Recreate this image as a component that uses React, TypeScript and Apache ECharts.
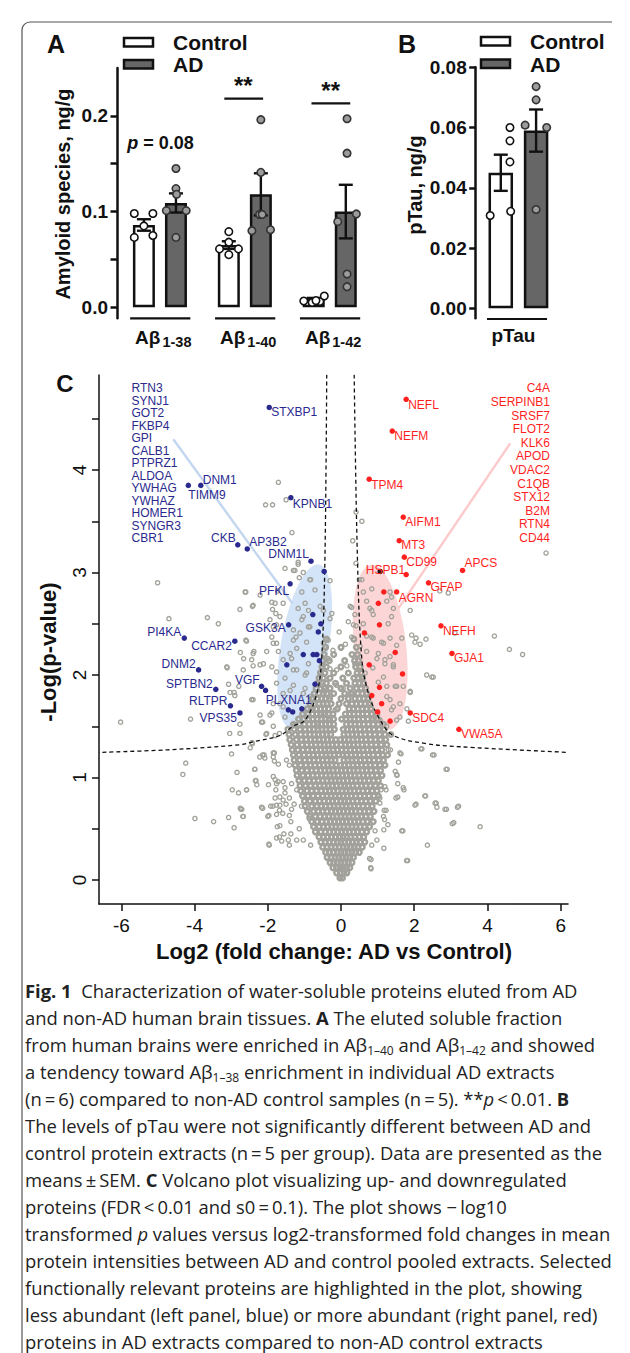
import React, { useEffect, useRef } from 'react';
import * as echarts from 'echarts';

const SANS = '"Liberation Sans", Arial, Helvetica, sans-serif';
const CAP = '"Open Sans", "Noto Sans", sans-serif';
const INK = '#111111';
const BLUE = '#2a2a8e';
const RED = '#ff1f1f';
const GREY = '#a2a29b';

// ---------------- Panel A data ----------------
const amyloidSpecies = ['1-38', '1-40', '1-42'];
const amyloidCtrlMean = [0.086, 0.065, 0.0085];
const amyloidCtrlSem = [0.006, 0.004, 0.0013];
const amyloidAdMean = [0.109, 0.118, 0.1];
const amyloidAdSem = [0.01, 0.022, 0.028];
const amyloidCtrlPoints = [
  [0.098, 0.098, 0.085, 0.073, 0.075],
  [0.079, 0.068, 0.061, 0.061, 0.055],
  [0.0066, 0.005, 0.006, 0.0118, 0.007],
];
const amyloidAdPoints = [
  [0.145, 0.124, 0.118, 0.101, 0.101, 0.073],
  [0.196, 0.141, 0.097, 0.097, 0.08, 0.081],
  [0.197, 0.161, 0.0975, 0.0895, 0.0348, 0.0215],
];
const amyloidLabelTicks = [0, 0.1, 0.2];
const amyloidTicks = [0, 0.05, 0.1, 0.15, 0.2];
const amyloidSignif = ['p = 0.08', '**', '**'];

// ---------------- Panel B data ----------------
const tauCtrlMean = 0.045;
const tauCtrlSem = 0.006;
const tauAdMean = 0.059;
const tauAdSem = 0.007;
const tauCtrlPoints = [0.06, 0.0556, 0.0486, 0.0308, 0.0322];
const tauAdPoints = [0.0736, 0.0692, 0.0608, 0.06, 0.0328];
const tauTicks = [0, 0.02, 0.04, 0.06, 0.08];

// ---------------- Panel C data ----------------
const volcanoXTicks = [-6, -4, -2, 0, 2, 4, 6];
const volcanoYTicks = [0, 0.5, 1, 1.5, 2, 2.5, 3, 3.5, 4, 4.5];
const volcanoYLabels = [0, 1, 2, 3, 4];

const downLabeled: [string, number, number][] = [
  ['STXBP1', -1.96, 4.61], ['DNM1', -3.83, 3.85], ['TIMM9', -4.17, 3.85], ['KPNB1', -1.37, 3.73],
  ['CKB', -2.82, 3.27], ['AP3B2', -2.56, 3.23], ['DNM1L', -0.82, 3.11], ['PFKL', -1.39, 2.89],
  ['GSK3A', -1.43, 2.49], ['PI4KA', -4.28, 2.36], ['CCAR2', -2.9, 2.33], ['DNM2', -3.89, 2.05],
  ['SPTBN2', -3.42, 1.86], ['VGF', -2.17, 1.89], ['RLTPR', -3.02, 1.7], ['VPS35', -2.76, 1.63],
  ['PLXNA1', -1.32, 1.64],
];
const downOther = [
  [-0.46, 3.01], [-0.77, 2.59], [-0.55, 2.5], [-0.62, 2.42], [-1.03, 2.2], [-0.76, 2.2], [-0.66, 2.2],
  [-0.59, 2.14], [-1.48, 2.1], [-0.71, 1.91], [-1.44, 1.66], [-1.07, 1.67], [-2.06, 1.85],
];
const upLabeled: [string, number, number][] = [
  ['NEFL', 1.78, 4.69], ['NEFM', 1.4, 4.38], ['TPM4', 0.77, 3.91], ['AIFM1', 1.7, 3.54],
  ['MT3', 1.59, 3.31], ['CD99', 1.73, 3.15], ['HSPB1', 1.78, 2.98], ['APCS', 3.32, 3.02],
  ['GFAP', 2.39, 2.9], ['AGRN', 1.52, 2.81], ['NEFH', 2.73, 2.48], ['GJA1', 3.03, 2.21],
  ['SDC4', 1.89, 1.63], ['VWA5A', 3.22, 1.47],
];
const upOther = [
  [1.17, 2.81], [1.02, 2.7], [1.05, 2.49], [0.64, 2.41], [1.48, 2.22], [0.77, 2.1], [1.68, 2.01],
  [1.05, 1.88], [0.84, 1.8], [1.11, 1.72], [1.0, 1.64], [1.34, 1.55],
];
const otherHighlighted = [[1.07, 3.01]];
const downList = ['RTN3', 'SYNJ1', 'GOT2', 'FKBP4', 'GPI', 'CALB1', 'PTPRZ1', 'ALDOA', 'YWHAG', 'YWHAZ', 'HOMER1', 'SYNGR3', 'CBR1'];
const upList = ['C4A', 'SERPINB1', 'SRSF7', 'FLOT2', 'KLK6', 'APOD', 'VDAC2', 'C1QB', 'STX12', 'B2M', 'RTN4', 'CD44'];

const thresholdLeft = [
  [-0.39, 4.93], [-0.44, 3.12], [-0.53, 2.15], [-0.66, 1.82], [-0.98, 1.56], [-1.31, 1.5],
  [-1.67, 1.41], [-2.39, 1.35], [-2.76, 1.32], [-4.74, 1.27], [-6.61, 1.245],
];
const thresholdRight = [
  [0.36, 4.93], [0.45, 3.12], [0.57, 2.15], [0.75, 1.82], [1.07, 1.56], [1.43, 1.41],
  [2.34, 1.33], [3.25, 1.3], [6.2, 1.245],
];
const downConnector = [[-4.58, 4.3], [-1.33, 2.7]];
const upConnector = [[4.62, 4.26], [1.57, 2.65]];
const regionCenters = [[-0.99, 2.28], [1.07, 2.27]];

const greyScattered = [
  [-1.71, 3.88], [-2.06, 3.66], [-1.87, 3.66], [-1.5, 3.71], [-1.34, 3.39],
  [-5.01, 2.9], [-4.7, 2.55], [-3.65, 2.56], [-3.35, 2.5], [-2.76, 2.64], [-2.42, 2.67], [-2.6, 2.81],
  [-2.58, 2.33], [-2.75, 2.22], [-2.66, 2.16], [-2.4, 2.21], [-2.4, 2.09], [-3.11, 2.07], [-3.07, 1.91],
  [-2.79, 1.89], [-3.03, 1.83], [-2.9, 1.8], [-2.44, 1.76], [-4.11, 1.57], [-2.76, 1.52], [-3.04, 1.43],
  [-2.76, 1.43], [-2.43, 1.34], [-2.48, 1.29], [-2.99, 1.23], [-4.24, 1.14], [-4.32, 1.03], [-2.84, 1.05],
  [-2.36, 1.08], [-2.34, 0.97], [-2.97, 0.88], [-2.8, 0.85], [-2.58, 0.88], [-2.75, 0.7], [-2.68, 0.62],
  [-3.07, 0.61], [-3.99, 0.6], [-3.48, 0.57], [-2.92, 0.51], [-6.02, 1.54],
  [-1.17, 3.1], [-1.26, 3.02], [-1.03, 3.0], [-1.53, 3.04], [-0.3, 2.92], [-1.14, 2.95], [-0.85, 2.93],
  [-1.73, 2.82], [-1.89, 2.71], [-1.87, 2.64], [-1.78, 2.6], [-1.67, 2.57], [-1.58, 2.7], [-1.17, 2.65],
  [-1.03, 2.57], [-0.48, 2.63], [-0.3, 2.55], [-1.76, 2.49], [-1.3, 2.44], [-0.89, 2.47], [-1.23, 2.37],
  [-2.38, 2.23], [-2.03, 2.23], [-1.85, 2.31], [-1.71, 2.23], [-1.58, 2.15], [-1.39, 2.21], [-0.35, 2.16],
  [-0.44, 2.28], [-0.35, 2.34], [-2.12, 2.11], [-2.67, 2.05], [-3.12, 2.08], [-1.76, 2.03], [-1.3, 2.05],
  [-0.94, 2.02], [-0.3, 2.06], [-2.92, 1.83], [-1.76, 1.92], [-1.39, 1.85], [-1.03, 1.82], [-0.48, 1.85],
  [-0.3, 1.79], [-1.85, 1.72], [-1.58, 1.69], [-2.21, 1.61], [-1.89, 1.63], [-0.94, 1.59], [-0.48, 1.63],
  [-0.16, 1.66], [-2.17, 1.54],
  [-1.3, 3.02], [-1.17, 3.08], [-0.83, 2.93], [-1.07, 2.81], [-0.71, 2.83], [-0.98, 2.7], [-0.89, 2.63],
  [-0.57, 2.67], [-1.07, 2.54], [-0.85, 2.47], [-1.12, 2.41], [-1.3, 2.34], [-0.94, 2.32], [-0.48, 2.31],
  [-1.21, 2.26], [-1.35, 2.16], [-0.89, 2.11], [-0.48, 2.1], [-1.21, 2.05], [-0.98, 2.0], [-0.57, 2.03],
  [-1.53, 1.97], [-1.3, 1.9], [-0.98, 1.87], [-0.53, 1.9], [-1.58, 1.82], [-0.85, 1.79], [-0.44, 1.84],
  [-1.67, 1.72], [-0.8, 1.69], [-0.48, 1.72], [-1.53, 1.59], [-0.57, 1.63], [-1.26, 1.51],
  [-0.66, 1.5], [-0.35, 1.56], [-1.94, 2.54], [-1.85, 2.47], [-1.89, 2.37], [-1.76, 2.31], [-1.8, 2.7],
  [-2.21, 2.78], [-2.62, 2.81], [-2.4, 2.68], [-2.6, 2.34], [-2.44, 2.15], [-2.21, 2.1], [-1.89, 2.08],
  [-2.4, 1.76], [-1.94, 1.61], [-1.85, 1.5], [-2.03, 1.43],
  [0.16, 2.09], [-0.12, 2.05], [-0.12, 1.9], [0.06, 1.87], [0.25, 1.82], [0.25, 2.67], [0.38, 2.59],
  [0.34, 2.49], [0.29, 2.37],
  [0.57, 2.93], [0.61, 2.81], [0.79, 2.65], [0.88, 2.59], [1.25, 2.72], [1.38, 2.76], [1.43, 2.65],
  [1.89, 2.63], [0.88, 2.36], [1.11, 2.32], [1.34, 2.36], [1.52, 2.29], [0.7, 2.23], [0.98, 2.16],
  [1.2, 2.15], [1.43, 2.08], [0.66, 2.02], [1.16, 1.98], [1.48, 1.89], [1.7, 1.89], [1.89, 1.84],
  [1.25, 1.79], [0.75, 1.72], [1.43, 1.69], [1.61, 1.59], [1.07, 1.56], [1.25, 1.5], [1.93, 2.39],
  [2.02, 2.32], [2.34, 2.0], [2.52, 1.98],
  [5.6, 3.19], [0.57, 3.5], [0.41, 3.59], [0.32, 3.31], [0.41, 3.09], [0.5, 2.93], [0.84, 2.84],
  [1.34, 2.81], [2.7, 2.82], [2.93, 2.8], [0.7, 2.72], [0.29, 2.66], [0.84, 2.63], [1.38, 2.57],
  [1.29, 2.5], [0.61, 2.5], [0.41, 2.48], [0.7, 2.38], [0.84, 2.37], [1.66, 2.36], [2.05, 2.36],
  [2.16, 2.3], [2.32, 2.35], [3.11, 2.41], [4.19, 2.38], [4.6, 2.25], [4.96, 2.2], [0.52, 2.28],
  [1.16, 2.31], [1.02, 2.21], [1.34, 2.18], [1.43, 2.1], [1.2, 2.11], [0.87, 2.07], [2.48, 1.98],
  [0.38, 2.11], [0.61, 1.98], [1.02, 1.93], [1.25, 1.89], [1.52, 1.89], [1.89, 1.83], [1.34, 1.76],
  [1.61, 1.72], [1.38, 1.66], [0.88, 1.59], [1.52, 1.56],
  [2.21, 1.28], [2.54, 1.22], [2.9, 1.08], [1.8, 1.67], [1.84, 1.55], [1.35, 1.27], [1.64, 1.23],
  [1.53, 1.02], [1.55, 0.81], [1.69, 0.48], [1.82, 0.19], [2.05, 0.74], [2.31, 0.82], [2.6, 0.75],
  [2.62, 0.71], [2.88, 0.69], [3.21, 0.72], [3.08, 0.56], [3.8, 0.52], [2.36, 0.34], [0.82, 0.11],
  [0.82, 0.2], [1.19, 0.59], [1.23, 0.68], [1.09, 0.88],
  [1.29, 1.27], [1.61, 1.24], [1.57, 1.15], [1.48, 1.06], [1.52, 1.03], [1.55, 0.94], [1.7, 0.9],
  [1.72, 0.88], [1.5, 0.8], [1.2, 0.91], [1.23, 0.88], [1.06, 0.8], [1.06, 0.75], [1.18, 0.68],
  [1.16, 0.62], [1.28, 0.54], [1.66, 0.48], [1.17, 0.49], [0.93, 0.48], [0.98, 0.39], [0.84, 0.34],
  [1.17, 0.31], [0.78, 0.21], [1.79, 0.19], [0.81, 0.12], [2.18, 1.28], [2.5, 1.22], [2.87, 1.08],
  [2.29, 0.82], [2.02, 0.73], [2.57, 0.75], [2.84, 0.69], [3.18, 0.71], [3.04, 0.55],
  [-2.35, 1.08], [-2.58, 0.88], [-2.32, 0.97], [-2.3, 0.93], [-2.14, 1.22], [-2.08, 1.19], [-1.85, 1.24],
  [-1.85, 1.2], [-1.71, 1.13], [-1.49, 1.17], [-1.41, 1.12], [-1.98, 0.93], [-1.85, 1.01], [-1.8, 0.98],
  [-1.76, 0.94], [-1.58, 0.96], [-1.53, 0.9], [-1.53, 0.85], [-1.35, 0.94], [-1.8, 0.8], [-1.67, 0.81],
  [-1.58, 0.78], [-1.41, 0.8], [-1.21, 0.88], [-2.17, 0.71], [-1.92, 0.72], [-1.76, 0.73], [-1.67, 0.73],
  [-1.5, 0.74], [-1.35, 0.69], [-1.28, 0.74], [-1.08, 0.72], [-2.0, 0.62], [-1.76, 0.64], [-1.59, 0.65],
  [-1.41, 0.63], [-1.37, 0.57], [-1.14, 0.5], [-0.87, 0.6], [-1.67, 0.53], [-1.56, 0.45], [-1.37, 0.45],
  [-1.76, 0.41], [-1.62, 0.38], [-1.96, 0.34], [-1.41, 0.34], [-1.03, 0.39], [-0.83, 0.34], [-2.71, 0.69],
  [-2.67, 0.62],
  [-2.05, 1.42], [-2.14, 1.54], [-1.8, 1.41], [-1.68, 1.43], [-2.42, 1.33], [-2.73, 0.69], [-2.14, 0.7],
  [-1.97, 0.63], [-1.97, 0.35], [-2.22, 1.2], [-2.1, 1.22], [-1.82, 1.24], [-1.82, 1.16], [-1.72, 0.96],
  [-1.78, 0.88], [-1.86, 0.72], [-1.68, 0.68], [-1.68, 0.42], [-1.44, 0.39], [-1.21, 0.39], [-1.74, 0.52],
  [-0.22, 2.24], [0.12, 2.3], [-0.05, 2.42], [0.2, 2.52], [-0.25, 2.6],
];

// dense central cloud, read row by row: [-log10 p, log2 fold changes...]
const greyCoreRows: [number, number[]][] = [
  [0.02, [-0.03, 0.04]],
  [0.07, [-0.12, -0.02, 0.08, 0.16]],
  [0.12, [-0.22, -0.12, -0.03, 0.06, 0.15, 0.24]],
  [0.17, [-0.3, -0.2, -0.1, 0.0, 0.1, 0.2, 0.3]],
  [0.22, [-0.38, -0.27, -0.16, -0.06, 0.04, 0.14, 0.24, 0.34]],
  [0.27, [-0.42, -0.32, -0.21, -0.1, 0.0, 0.1, 0.2, 0.3, 0.4, 0.5]],
  [0.32, [-0.5, -0.38, -0.27, -0.16, -0.05, 0.06, 0.16, 0.26, 0.36, 0.46, 0.58]],
  [0.37, [-0.55, -0.43, -0.32, -0.21, -0.1, 0.0, 0.1, 0.21, 0.31, 0.42, 0.52, 0.65]],
  [0.42, [-0.6, -0.48, -0.37, -0.26, -0.15, -0.04, 0.06, 0.16, 0.27, 0.38, 0.5, 0.62]],
  [0.47, [-0.7, -0.55, -0.43, -0.31, -0.2, -0.09, 0.02, 0.12, 0.23, 0.34, 0.45, 0.57, 0.7]],
  [0.52, [-0.75, -0.6, -0.48, -0.36, -0.25, -0.14, -0.03, 0.08, 0.19, 0.3, 0.41, 0.52, 0.64, 0.78]],
  [0.57, [-0.8, -0.65, -0.52, -0.4, -0.29, -0.18, -0.07, 0.04, 0.15, 0.26, 0.37, 0.48, 0.6, 0.72, 0.88]],
  [0.62, [-0.85, -0.7, -0.57, -0.45, -0.33, -0.22, -0.11, 0.0, 0.11, 0.22, 0.33, 0.44, 0.56, 0.68, 0.8]],
  [0.67, [-0.92, -0.75, -0.62, -0.5, -0.38, -0.26, -0.15, -0.04, 0.07, 0.18, 0.29, 0.4, 0.52, 0.64, 0.76, 0.9]],
  [0.72, [-0.98, -0.8, -0.66, -0.54, -0.42, -0.3, -0.19, -0.08, 0.03, 0.14, 0.25, 0.36, 0.48, 0.6, 0.72, 0.85]],
  [0.77, [-1.0, -0.85, -0.7, -0.58, -0.46, -0.34, -0.23, -0.12, 0.0, 0.1, 0.21, 0.32, 0.44, 0.56, 0.68, 0.8, 0.95]],
  [0.82, [-1.05, -0.9, -0.76, -0.63, -0.5, -0.38, -0.27, -0.16, -0.05, 0.06, 0.17, 0.28, 0.4, 0.52, 0.64, 0.76, 0.9, 1.02]],
  [0.87, [-1.1, -0.93, -0.8, -0.67, -0.54, -0.42, -0.31, -0.2, -0.09, 0.03, 0.14, 0.25, 0.36, 0.48, 0.6, 0.72, 0.85, 0.98]],
  [0.92, [-1.12, -0.97, -0.83, -0.7, -0.58, -0.46, -0.35, -0.24, -0.12, 0.0, 0.1, 0.21, 0.32, 0.44, 0.56, 0.68, 0.8, 0.94, 1.08]],
  [0.97, [-1.15, -1.0, -0.87, -0.74, -0.62, -0.5, -0.38, -0.27, -0.16, -0.05, 0.06, 0.18, 0.29, 0.41, 0.52, 0.64, 0.76, 0.89, 1.02]],
  [1.02, [-1.2, -1.04, -0.9, -0.77, -0.65, -0.53, -0.41, -0.3, -0.19, -0.08, 0.04, 0.15, 0.26, 0.38, 0.49, 0.61, 0.73, 0.85, 0.98, 1.12]],
  [1.07, [-1.22, -1.07, -0.93, -0.8, -0.68, -0.56, -0.44, -0.33, -0.22, -0.1, 0.01, 0.12, 0.24, 0.35, 0.46, 0.58, 0.7, 0.82, 0.95, 1.08]],
  [1.12, [-1.25, -1.1, -0.96, -0.83, -0.71, -0.59, -0.47, -0.36, -0.25, -0.13, -0.02, 0.1, 0.21, 0.33, 0.44, 0.56, 0.68, 0.8, 0.93, 1.06, 1.2]],
  [1.17, [-1.28, -1.13, -0.99, -0.86, -0.74, -0.62, -0.5, -0.38, -0.27, -0.16, 0.08, 0.19, 0.3, 0.41, 0.53, 0.65, 0.77, 0.9, 1.03, 1.16]],
  [1.22, [-1.3, -1.15, -1.01, -0.88, -0.76, -0.64, -0.52, -0.41, -0.3, -0.19, -0.06, 0.05, 0.16, 0.28, 0.39, 0.51, 0.63, 0.75, 0.88, 1.01, 1.14, 1.27]],
  [1.27, [-1.33, -1.18, -1.04, -0.91, -0.79, -0.67, -0.55, -0.44, -0.33, -0.22, -0.1, 0.02, 0.14, 0.25, 0.37, 0.49, 0.6, 0.72, 0.85, 0.98, 1.12]],
  [1.32, [-1.36, -1.2, -1.06, -0.93, -0.81, -0.69, -0.57, -0.46, -0.35, -0.24, -0.12, 0.0, 0.12, 0.23, 0.35, 0.46, 0.58, 0.7, 0.83, 0.96, 1.1, 1.25]],
  [1.37, [-1.4, -1.22, -1.08, -0.95, -0.83, -0.71, -0.6, -0.48, -0.37, -0.26, -0.14, -0.02, 0.1, 0.21, 0.33, 0.44, 0.56, 0.68, 0.81, 0.94, 1.08, 1.22]],
  [1.42, [-1.42, -1.25, -1.1, -0.97, -0.85, -0.73, -0.62, -0.5, -0.39, -0.28, 0.08, 0.19, 0.31, 0.42, 0.54, 0.66, 0.79, 0.92, 1.06, 1.2, 1.36]],
  [1.47, [-1.45, -1.28, -1.12, -0.98, -0.86, -0.74, -0.63, -0.52, -0.41, -0.3, -0.18, 0.06, 0.17, 0.29, 0.4, 0.52, 0.64, 0.77, 0.9, 1.04, 1.18]],
  [1.52, [-1.3, -1.14, -1.0, -0.87, -0.75, -0.64, -0.53, -0.42, -0.31, -0.2, 0.15, 0.27, 0.38, 0.5, 0.62, 0.75, 0.88, 1.02, 1.16]],
  [1.57, [-1.16, -1.02, -0.89, -0.77, -0.65, -0.54, -0.43, -0.32, -0.2, 0.02, 0.14, 0.25, 0.36, 0.48, 0.6, 0.73, 0.86, 1.0]],
  [1.62, [-1.05, -0.91, -0.78, -0.66, -0.55, -0.44, -0.33, -0.22, 0.12, 0.24, 0.35, 0.47, 0.59, 0.71, 0.84, 0.98]],
  [1.67, [-0.92, -0.79, -0.67, -0.56, -0.45, -0.34, -0.1, 0.22, 0.34, 0.46, 0.58, 0.7, 0.82]],
  [1.72, [-0.85, -0.72, -0.6, -0.49, -0.38, -0.27, -0.05, 0.15, 0.3, 0.42, 0.54, 0.66, 0.78]],
  [1.77, [-0.78, -0.65, -0.53, -0.42, -0.31, 0.0, 0.2, 0.38, 0.5, 0.62, 0.74]],
  [1.82, [-0.73, -0.6, -0.49, -0.38, -0.2, 0.1, 0.3, 0.46, 0.58, 0.7]],
  [1.87, [-0.68, -0.56, -0.45, -0.3, 0.0, 0.25, 0.42, 0.55, 0.67]],
  [1.92, [-0.64, -0.52, -0.4, -0.15, 0.15, 0.38, 0.5, 0.62]],
  [1.97, [-0.6, -0.48, -0.3, 0.05, 0.35, 0.47, 0.58]],
  [2.02, [-0.56, -0.44, -0.2, 0.2, 0.44, 0.55]],
  [2.08, [-0.52, -0.4, 0.0, 0.4, 0.52]],
  [2.14, [-0.5, -0.32, 0.1, 0.37, 0.48]],
  [2.2, [-0.46, -0.2, 0.3, 0.45]],
  [2.27, [-0.42, 0.0, 0.42]],
  [2.35, [-0.4, 0.35]],
];

const captionLines = [
  '{b|Fig. 1}  Characterization of water-soluble proteins eluted from AD',
  'and non-AD human brain tissues. {b|A} The eluted soluble fraction',
  'from human brains were enriched in A\u03b2{s|1\u201340} and A\u03b2{s|1\u201342} and showed',
  'a tendency toward A\u03b2{s|1\u201338} enrichment in individual AD extracts',
  '(n\u2009=\u20096) compared to non-AD control samples (n\u2009=\u20095). **{i|p}\u2009<\u20090.01. {b|B}',
  'The levels of pTau were not significantly different between AD and',
  'control protein extracts (n\u2009=\u20095 per group). Data are presented as the',
  'means\u2009\u00b1\u2009SEM. {b|C} Volcano plot visualizing up- and downregulated',
  'proteins (FDR\u2009<\u20090.01 and s0\u2009=\u20090.1). The plot shows \u2212\u2009log10',
  'transformed {i|p} values versus log2-transformed fold changes in mean',
  'protein intensities between AD and control pooled extracts. Selected',
  'functionally relevant proteins are highlighted in the plot, showing',
  'less abundant (left panel, blue) or more abundant (right panel, red)',
  'proteins in AD extracts compared to non-AD control extracts',
];

// ---------------- layout / style tables (not data) ----------------
const A_CTRL_X = [0, 2.65, 5.3];
const A_AD_X = [1, 3.65, 6.3];
const A_CTRL_JITTER = [[-0.3, 0.28, 0, -0.3, 0.28], [0, 0, -0.29, 0.3, 0], [-0.31, -0.05, 0.19, 0.33, 0.07]];
const A_AD_JITTER = [[0, 0, 0.02, -0.3, 0.32, 0], [0, 0, -0.04, 0.04, -0.28, 0.3], [0.04, 0.04, 0.33, -0.25, 0.04, 0.04]];
const A_YMIN = -0.0115;
const A_SIG_POS = [[0.52, 0.172, 0, 0], [3.1, 0.218, 2.51, 3.72], [5.83, 0.213, 5.23, 6.44]];
const B_JITTER_CTRL = [0.26, 0.26, 0.26, -0.3, 0.28];
const B_JITTER_AD = [0, 0, -0.31, 0.3, 0];
const B_YMIN = -0.0033;

const labelPlace: Record<string, [string, number, number]> = {
  STXBP1: ['right', -1, 5], DNM1: ['right', -1, -5], TIMM9: ['right', -3, 10], KPNB1: ['right', -1, 6],
  CKB: ['left', 1, -7], AP3B2: ['right', -1, -7], DNM1L: ['left', 1, -7], PFKL: ['left', 2, 7],
  GSK3A: ['left', 0, 3], PI4KA: ['left', 0, -6], CCAR2: ['left', 0, 5], DNM2: ['left', 0, -6],
  SPTBN2: ['left', 0, -5], VGF: ['left', 1, -6], RLTPR: ['left', 0, -5], VPS35: ['left', 0, 5],
  PLXNA1: ['top', -4, 1],
  NEFL: ['right', -1, 6], NEFM: ['right', -1, 5], TPM4: ['right', -1, 6], AIFM1: ['right', -1, 5],
  MT3: ['right', -1, 4], CD99: ['right', -1, 5], HSPB1: ['left', 2, -5], APCS: ['right', -1, -7],
  GFAP: ['right', -1, 4], AGRN: ['right', -1, 6], NEFH: ['right', -1, 5], GJA1: ['right', -1, 5],
  SDC4: ['right', -1, 5], VWA5A: ['right', -1, 5],
};
const regionStyles = [
  { rx: 24, ry: 83, rot: -0.17, fill: '#d3e3f8' },
  { rx: 26, ry: 83, rot: 0.11, fill: '#fcd6d6' },
];

function txt(x: number, y: number, text: string, o: any = {}, rot = 0) {
  return {
    type: 'text', x, y, rotation: rot, silent: true,
    style: {
      text, fill: o.fill || INK, fontSize: o.fontSize || 12, fontWeight: o.fontWeight || 'normal',
      fontFamily: o.fontFamily || SANS, align: o.align || 'left', verticalAlign: o.verticalAlign || 'middle',
      lineHeight: o.lineHeight, rich: o.rich, fontStyle: o.fontStyle || 'normal',
    },
  };
}

function errorBarRenderer(hw: number) {
  return (params: any, api: any) => {
    const x = api.value(0), m = api.value(1), s = api.value(2);
    const t = api.coord([x, m + s]);
    const b = api.coord([x, m - s]);
    const st = { stroke: INK, lineWidth: 2.4 };
    return {
      type: 'group',
      children: [
        { type: 'line', shape: { x1: t[0], y1: t[1], x2: b[0], y2: b[1] }, style: st },
        { type: 'line', shape: { x1: t[0] - hw, y1: t[1], x2: t[0] + hw, y2: t[1] }, style: st },
        { type: 'line', shape: { x1: b[0] - hw, y1: b[1], x2: b[0] + hw, y2: b[1] }, style: st },
      ],
    };
  };
}

function geneLabelRenderer(list: [string, number, number][], color: string) {
  return (params: any, api: any) => {
    const [name, x, y] = list[params.dataIndex];
    const c = api.coord([x, y]);
    const p = labelPlace[name];
    let tx = c[0] + p[1];
    let ty = c[1] + p[2];
    let align = 'left';
    if (p[0] === 'right') tx += 3;
    else if (p[0] === 'left') { tx -= 3; align = 'right'; }
    else { ty -= 13; align = 'center'; }
    return {
      type: 'text', x: tx, y: ty,
      style: { text: name, align, verticalAlign: 'middle', fontSize: 12, fontFamily: SANS, fill: color },
    };
  };
}

function buildOption() {
  const greyCore = greyCoreRows.flatMap(([y, xs]) => xs.map((x) => [x, y]));
  const ctrlScatter: number[][] = [];
  const adScatter: number[][] = [];
  amyloidCtrlPoints.forEach((g, i) => g.forEach((v, j) => ctrlScatter.push([A_CTRL_X[i] + A_CTRL_JITTER[i][j], v])));
  amyloidAdPoints.forEach((g, i) => g.forEach((v, j) => adScatter.push([A_AD_X[i] + A_AD_JITTER[i][j], v])));

  const boldTick = { fontSize: 19, fontWeight: 'bold', color: INK, fontFamily: SANS };
  const axisStroke = { color: INK, width: 2.5 };

  const CAPSIZE = 18.4;
  const captionRich = {
    b: { fontFamily: CAP, fontSize: CAPSIZE, fontWeight: 'bold', fill: '#222' },
    i: { fontFamily: CAP, fontSize: CAPSIZE, fontStyle: 'italic', fill: '#222' },
    s: { fontFamily: CAP, fontSize: 12, fill: '#222', verticalAlign: 'bottom', lineHeight: 12 },
  };

  const graphic: any[] = [
    // figure frame
    { type: 'line', silent: true, shape: { x1: 30, y1: 22, x2: 612, y2: 22 }, style: { stroke: '#555', lineWidth: 1.2 } },
    { type: 'line', silent: true, shape: { x1: 22, y1: 30, x2: 22, y2: 1353 }, style: { stroke: '#555', lineWidth: 1.2 } },
    { type: 'arc', silent: true, shape: { cx: 30, cy: 30, r: 8, startAngle: Math.PI, endAngle: Math.PI * 1.5 }, style: { stroke: '#555', lineWidth: 1.2, fill: 'none' } },
    // panel letters
    txt(56, 44, 'A', { fontSize: 25, fontWeight: 'bold', align: 'center' }),
    txt(407, 44, 'B', { fontSize: 25, fontWeight: 'bold', align: 'center' }),
    txt(65, 383, 'C', { fontSize: 24, fontWeight: 'bold', align: 'center' }),
    // legends
    { type: 'rect', silent: true, shape: { x: 124, y: 38, width: 29, height: 8.5 }, style: { fill: '#fff', stroke: INK, lineWidth: 2.5 } },
    { type: 'rect', silent: true, shape: { x: 124, y: 60, width: 29, height: 8.5 }, style: { fill: '#666', stroke: INK, lineWidth: 2.5 } },
    txt(173, 42, 'Control', { fontSize: 21, fontWeight: 'bold' }),
    txt(173, 64, 'AD', { fontSize: 21, fontWeight: 'bold' }),
    { type: 'rect', silent: true, shape: { x: 481, y: 37, width: 29, height: 8.5 }, style: { fill: '#fff', stroke: INK, lineWidth: 2.5 } },
    { type: 'rect', silent: true, shape: { x: 481, y: 59.5, width: 29, height: 8.5 }, style: { fill: '#666', stroke: INK, lineWidth: 2.5 } },
    txt(530, 41, 'Control', { fontSize: 21, fontWeight: 'bold' }),
    txt(530, 64, 'AD', { fontSize: 21, fontWeight: 'bold' }),
    // axis titles
    txt(63, 194, 'Amyloid species, ng/g', { fontSize: 20, fontWeight: 'bold', align: 'center' }, Math.PI / 2),
    txt(415, 185, 'pTau, ng/g', { fontSize: 20, fontWeight: 'bold', align: 'center' }, Math.PI / 2),
    txt(48, 652, '-Log(p-value)', { fontSize: 22, fontWeight: 'bold', align: 'center' }, Math.PI / 2),
    txt(334, 951, 'Log2 (fold change: AD vs Control)', { fontSize: 22, fontWeight: 'bold', align: 'center' }),
    // highlighted protein lists
    txt(131.5, 382, downList.join('\n'), { fontSize: 12, fill: BLUE, verticalAlign: 'top', lineHeight: 12.5 }),
    txt(550, 381.5, upList.join('\n'), { fontSize: 12, fill: RED, verticalAlign: 'top', align: 'right', lineHeight: 13.6 }),
  ];
  captionLines.forEach((line, i) => {
    graphic.push(txt(25, 990 + 27.05 * i, line, { fontSize: CAPSIZE, fontFamily: CAP, fill: '#222', rich: captionRich, lineHeight: 24 }));
  });

  return {
    animation: false,
    backgroundColor: '#ffffff',
    textStyle: { fontFamily: SANS },
    grid: [
      { left: 117, top: 68, width: 248, height: 250.3, outerBoundsMode: 'none' },
      { left: 475.7, top: 67.3, width: 84.4, height: 251, outerBoundsMode: 'none' },
      { left: 99, top: 375, width: 469, height: 529, outerBoundsMode: 'none' },
    ],
    xAxis: [
      { gridIndex: 0, type: 'value', min: -0.84, max: 6.9, show: false },
      { gridIndex: 1, type: 'value', min: -0.71, max: 1.68, show: false },
      {
        gridIndex: 2, type: 'value', min: -6.61, max: 6.2,
        axisLine: { show: true, onZero: false, lineStyle: { color: INK, width: 1.5 } },
        axisTick: { show: true, customValues: volcanoXTicks, length: 7, lineStyle: { color: INK, width: 1.5 } },
        axisLabel: { show: true, customValues: volcanoXTicks, fontSize: 19, color: INK, fontFamily: SANS, margin: 12 },
        splitLine: { show: false },
      },
    ],
    yAxis: [
      {
        gridIndex: 0, type: 'value', min: A_YMIN, max: 0.25,
        axisLine: { show: true, onZero: false, lineStyle: axisStroke },
        axisTick: { show: true, customValues: amyloidTicks, length: 6.5, lineStyle: axisStroke },
        axisLabel: { show: true, customValues: amyloidLabelTicks, formatter: (v: number) => v.toFixed(1), margin: 9, ...boldTick },
        splitLine: { show: false },
      },
      {
        gridIndex: 1, type: 'value', min: B_YMIN, max: 0.08,
        axisLine: { show: true, onZero: false, lineStyle: axisStroke },
        axisTick: { show: true, customValues: tauTicks, length: 6.5, lineStyle: axisStroke },
        axisLabel: { show: true, customValues: tauTicks, formatter: (v: number) => v.toFixed(2), margin: 9, ...boldTick },
        splitLine: { show: false },
      },
      {
        gridIndex: 2, type: 'value', min: -0.234, max: 4.927,
        axisLine: { show: true, onZero: false, lineStyle: { color: INK, width: 1.5 } },
        axisTick: { show: true, customValues: volcanoYTicks, length: 7, lineStyle: { color: INK, width: 1.5 } },
        axisLabel: { show: true, customValues: volcanoYLabels, rotate: 90, fontSize: 19, color: INK, fontFamily: SANS, margin: 10 },
        splitLine: { show: false },
      },
    ],
    series: [
      // ---- Panel A ----
      {
        type: 'bar', name: 'Control', xAxisIndex: 0, yAxisIndex: 0, barWidth: 22, barGap: '-100%', z: 2,
        data: amyloidCtrlMean.map((v, i) => [A_CTRL_X[i], v]),
        itemStyle: { color: '#ffffff', borderColor: INK, borderWidth: 2.5 },
      },
      {
        type: 'bar', name: 'AD', xAxisIndex: 0, yAxisIndex: 0, barWidth: 22, barGap: '-100%', z: 2,
        data: amyloidAdMean.map((v, i) => [A_AD_X[i], v]),
        itemStyle: { color: '#666666', borderColor: INK, borderWidth: 2.5 },
      },
      {
        type: 'custom', xAxisIndex: 0, yAxisIndex: 0, z: 3, clip: false, silent: true,
        data: amyloidCtrlMean.map((v, i) => [A_CTRL_X[i], v, amyloidCtrlSem[i]])
          .concat(amyloidAdMean.map((v, i) => [A_AD_X[i], v, amyloidAdSem[i]])),
        renderItem: errorBarRenderer(7),
      },
      {
        type: 'scatter', xAxisIndex: 0, yAxisIndex: 0, z: 4, symbolSize: 7.5, data: ctrlScatter,
        itemStyle: { color: '#ffffff', borderColor: INK, borderWidth: 1.6, opacity: 1 },
      },
      {
        type: 'scatter', xAxisIndex: 0, yAxisIndex: 0, z: 4, symbolSize: 7.5, data: adScatter,
        itemStyle: { color: '#9c9c9c', borderColor: '#333', borderWidth: 1.6, opacity: 1 },
      },
      {
        type: 'custom', xAxisIndex: 0, yAxisIndex: 0, z: 5, clip: false, silent: true,
        data: amyloidSpecies.map((_, i) => [A_CTRL_X[i], 0]),
        renderItem: (params: any, api: any) => {
          const i = params.dataIndex;
          const l = api.coord([A_CTRL_X[i] - 0.43, A_YMIN]);
          const r = api.coord([A_AD_X[i] + 0.45, A_YMIN]);
          const cx = api.coord([(A_CTRL_X[i] + A_AD_X[i]) / 2, A_YMIN])[0];
          const sp = A_SIG_POS[i];
          const sc = api.coord([sp[0], sp[1]]);
          const children: any[] = [
            { type: 'line', shape: { x1: l[0], y1: l[1], x2: r[0], y2: r[1] }, style: { stroke: INK, lineWidth: 2.2 } },
            { type: 'text', x: cx + 0.5, y: l[1] + 19.5, style: { text: 'A\u03b2', align: 'right', verticalAlign: 'middle', fontSize: 19, fontWeight: 'bold', fontFamily: SANS, fill: INK } },
            { type: 'text', x: cx + 2.5, y: l[1] + 24, style: { text: amyloidSpecies[i], align: 'left', verticalAlign: 'middle', fontSize: 14.5, fontWeight: 'bold', fontFamily: SANS, fill: INK } },
          ];
          if (i === 0) {
            children.push({
              type: 'text', x: sc[0], y: sc[1],
              style: {
                text: '{i|p}{n| = 0.08}', align: 'center', verticalAlign: 'middle',
                rich: {
                  i: { fontSize: 18, fontWeight: 'bold', fontStyle: 'italic', fontFamily: SANS, fill: INK },
                  n: { fontSize: 18, fontWeight: 'bold', fontFamily: SANS, fill: INK },
                },
              },
            });
          } else {
            const a = api.coord([sp[2], sp[1]]);
            const b = api.coord([sp[3], sp[1]]);
            children.push({ type: 'line', shape: { x1: a[0], y1: a[1], x2: b[0], y2: b[1] }, style: { stroke: INK, lineWidth: 2.4 } });
            children.push({ type: 'text', x: sc[0], y: sc[1] - 13, style: { text: amyloidSignif[i], align: 'center', verticalAlign: 'middle', fontSize: 24, fontWeight: 'bold', fontFamily: SANS, fill: INK } });
          }
          return { type: 'group', children };
        },
      },
      // ---- Panel B ----
      {
        type: 'bar', name: 'Control', xAxisIndex: 1, yAxisIndex: 1, barWidth: 24.5, barGap: '-100%', z: 2,
        data: [[0, tauCtrlMean]], itemStyle: { color: '#ffffff', borderColor: INK, borderWidth: 2.5 },
      },
      {
        type: 'bar', name: 'AD', xAxisIndex: 1, yAxisIndex: 1, barWidth: 24.5, barGap: '-100%', z: 2,
        data: [[1, tauAdMean]], itemStyle: { color: '#666666', borderColor: INK, borderWidth: 2.5 },
      },
      {
        type: 'custom', xAxisIndex: 1, yAxisIndex: 1, z: 3, clip: false, silent: true,
        data: [[0, tauCtrlMean, tauCtrlSem], [1, tauAdMean, tauAdSem]],
        renderItem: errorBarRenderer(7),
      },
      {
        type: 'scatter', xAxisIndex: 1, yAxisIndex: 1, z: 4, symbolSize: 7.5,
        data: tauCtrlPoints.map((v, j) => [B_JITTER_CTRL[j], v]),
        itemStyle: { color: '#ffffff', borderColor: INK, borderWidth: 1.6, opacity: 1 },
      },
      {
        type: 'scatter', xAxisIndex: 1, yAxisIndex: 1, z: 4, symbolSize: 7.5,
        data: tauAdPoints.map((v, j) => [1 + B_JITTER_AD[j], v]),
        itemStyle: { color: '#9c9c9c', borderColor: '#333', borderWidth: 1.6, opacity: 1 },
      },
      {
        type: 'custom', xAxisIndex: 1, yAxisIndex: 1, z: 5, clip: false, silent: true,
        data: [[0, 0]],
        renderItem: (params: any, api: any) => {
          const l = api.coord([-0.39, B_YMIN]);
          const r = api.coord([1.31, B_YMIN]);
          const cx = api.coord([0.5, B_YMIN])[0];
          return {
            type: 'group',
            children: [
              { type: 'line', shape: { x1: l[0], y1: l[1] + 0.7, x2: r[0], y2: r[1] + 0.7 }, style: { stroke: INK, lineWidth: 2.2 } },
              { type: 'text', x: cx - 5, y: l[1] + 17, style: { text: 'pTau', align: 'center', verticalAlign: 'middle', fontSize: 19, fontWeight: 'bold', fontFamily: SANS, fill: INK } },
            ],
          };
        },
      },
      // ---- Panel C ----
      {
        type: 'custom', xAxisIndex: 2, yAxisIndex: 2, z: 1, clip: false, silent: true,
        data: regionCenters,
        renderItem: (params: any, api: any) => {
          const c = api.coord([api.value(0), api.value(1)]);
          const s = regionStyles[params.dataIndex];
          return { type: 'ellipse', x: c[0], y: c[1], rotation: s.rot, shape: { cx: 0, cy: 0, rx: s.rx, ry: s.ry }, style: { fill: s.fill } };
        },
      },
      {
        type: 'line', xAxisIndex: 2, yAxisIndex: 2, z: 2, data: downConnector, symbol: 'none', silent: true,
        lineStyle: { color: '#c3d6f0', width: 2.4 },
      },
      {
        type: 'line', xAxisIndex: 2, yAxisIndex: 2, z: 2, data: upConnector, symbol: 'none', silent: true,
        lineStyle: { color: '#fccaca', width: 2.4 },
      },
      {
        type: 'scatter', xAxisIndex: 2, yAxisIndex: 2, z: 3, symbolSize: 4.2, data: greyScattered, silent: true,
        itemStyle: { color: 'rgba(255,255,255,0)', borderColor: GREY, borderWidth: 1.35, opacity: 1 },
      },
      {
        type: 'scatter', xAxisIndex: 2, yAxisIndex: 2, z: 3, symbolSize: 4.6, data: greyCore, silent: true,
        itemStyle: { color: 'rgba(255,255,255,0)', borderColor: GREY, borderWidth: 2.5, opacity: 1 },
      },
      {
        type: 'line', xAxisIndex: 2, yAxisIndex: 2, z: 4, data: thresholdLeft, symbol: 'none', smooth: 0.35, silent: true,
        lineStyle: { color: INK, width: 1.3, type: [4, 3] },
      },
      {
        type: 'line', xAxisIndex: 2, yAxisIndex: 2, z: 4, data: thresholdRight, symbol: 'none', smooth: 0.35, silent: true,
        lineStyle: { color: INK, width: 1.3, type: [4, 3] },
      },
      {
        type: 'scatter', xAxisIndex: 2, yAxisIndex: 2, z: 5, symbolSize: 5.5, silent: true,
        data: downOther, itemStyle: { color: BLUE, opacity: 1 },
      },
      {
        type: 'scatter', xAxisIndex: 2, yAxisIndex: 2, z: 5, symbolSize: 5.5, silent: true,
        data: upOther, itemStyle: { color: RED, opacity: 1 },
      },
      {
        type: 'scatter', xAxisIndex: 2, yAxisIndex: 2, z: 5, symbolSize: 5.5, silent: true,
        data: otherHighlighted, itemStyle: { color: '#111', opacity: 1 },
      },
      {
        type: 'scatter', xAxisIndex: 2, yAxisIndex: 2, z: 6, symbolSize: 5.5, silent: true,
        data: downLabeled.map((d) => [d[1], d[2]]), itemStyle: { color: BLUE, opacity: 1 },
      },
      {
        type: 'scatter', xAxisIndex: 2, yAxisIndex: 2, z: 6, symbolSize: 5.5, silent: true,
        data: upLabeled.map((d) => [d[1], d[2]]), itemStyle: { color: RED, opacity: 1 },
      },
      {
        type: 'custom', xAxisIndex: 2, yAxisIndex: 2, z: 7, clip: false, silent: true,
        data: downLabeled.map((d) => [d[1], d[2]]),
        renderItem: geneLabelRenderer(downLabeled, BLUE),
      },
      {
        type: 'custom', xAxisIndex: 2, yAxisIndex: 2, z: 7, clip: false, silent: true,
        data: upLabeled.map((d) => [d[1], d[2]]),
        renderItem: geneLabelRenderer(upLabeled, RED),
      },
    ],
    graphic,
  };
}

export default function App() {
  const ref = useRef<HTMLDivElement>(null);
  useEffect(() => {
    document.body.style.margin = '0';
    if (!ref.current) return;
    const chart = echarts.init(ref.current, null, { renderer: 'svg' });
    chart.setOption(buildOption() as any);
    return () => chart.dispose();
  }, []);
  return <div ref={ref} style={{ width: 630, height: 1353, background: '#fff' }} />;
}
